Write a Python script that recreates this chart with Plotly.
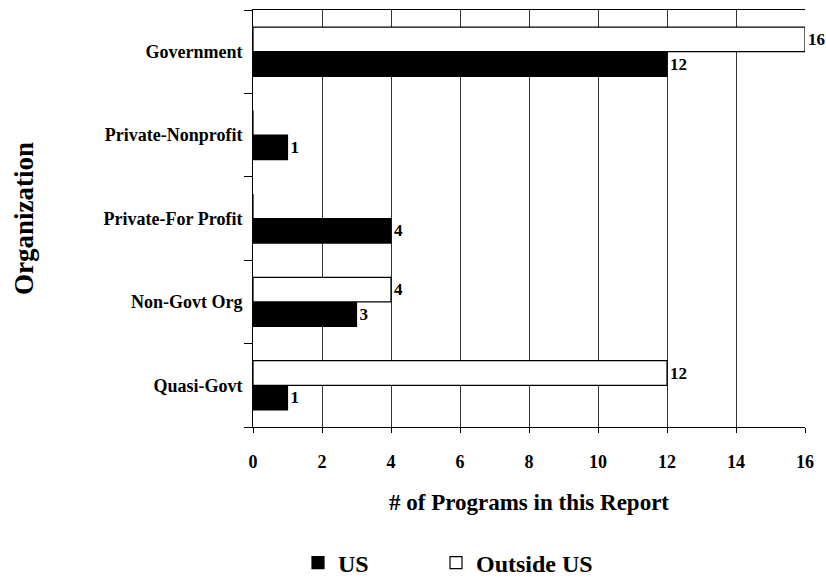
import plotly.graph_objects as go

# categories listed bottom -> top
ORGS = ["Quasi-Govt", "Non-Govt Org", "Private-For Profit", "Private-Nonprofit", "Government"]
US = [1, 3, 4, 1, 12]
OUTSIDE_US = [12, 4, 0, 0, 16]
X_TICKS = [0, 2, 4, 6, 8, 10, 12, 14, 16]

FONT = "Liberation Serif, Times New Roman, serif"
BLACK = "#000000"


def labels(vals):
    return [str(v) if v else "" for v in vals]


def legend_box(x):
    # placed in container coordinates so it does not push the plot margins
    return dict(
        orientation="h", x=x, xanchor="left", xref="container",
        y=0.0376, yanchor="middle", yref="container",
        font=dict(family=FONT, size=24, color=BLACK, weight="bold"),
        itemwidth=30, bgcolor="rgba(0,0,0,0)",
    )


fig = go.Figure()
fig.add_trace(go.Bar(
    y=ORGS, x=US, name="US", orientation="h", legend="legend",
    marker=dict(color=BLACK, line=dict(color=BLACK, width=1.2)),
    text=labels(US), textposition="outside", cliponaxis=False, constraintext="none",
    textfont=dict(family=FONT, size=17, color=BLACK, weight="bold"),
))
fig.add_trace(go.Bar(
    y=ORGS, x=OUTSIDE_US, name="Outside US", orientation="h", legend="legend2",
    marker=dict(color="#ffffff", line=dict(color=BLACK, width=1.2)),
    text=labels(OUTSIDE_US), textposition="outside", cliponaxis=False, constraintext="none",
    textfont=dict(family=FONT, size=17, color=BLACK, weight="bold"),
))

fig.update_layout(
    width=826, height=585,
    margin=dict(l=253, r=21, t=10, b=158),
    paper_bgcolor="#ffffff", plot_bgcolor="#ffffff",
    barmode="group", bargap=0.41, bargroupgap=0,
    font=dict(family=FONT, color=BLACK, weight="bold"),
    showlegend=True,
    legend=legend_box(298 / 826),
    legend2=legend_box(436 / 826),
)

fig.update_xaxes(
    range=[0, 16], tickvals=X_TICKS, automargin=False,
    showgrid=True, gridcolor="#333333", gridwidth=1,
    showline=True, linecolor=BLACK, linewidth=1, mirror=True,
    ticks="outside", ticklen=5, tickcolor=BLACK, ticklabelstandoff=13,
    tickfont=dict(family=FONT, size=18, color=BLACK, weight="bold"),
    title=dict(text="# of Programs in this Report", standoff=23,
               font=dict(family=FONT, size=23, color=BLACK, weight="bold")),
    zeroline=False,
)
fig.update_yaxes(
    type="category", categoryorder="array", categoryarray=ORGS, automargin=False,
    showgrid=False, showline=True, linecolor=BLACK, linewidth=1,
    ticks="outside", ticklen=8, tickcolor=BLACK, tickson="boundaries",
    ticklabelstandoff=6,
    tickfont=dict(family=FONT, size=18, color=BLACK, weight="bold"),
    title=dict(text="Organization", standoff=62,
               font=dict(family=FONT, size=27, color=BLACK, weight="bold")),
)

fig.write_html("out.html", config={"displayModeBar": False},
               post_script="document.body.style.margin='0';")
